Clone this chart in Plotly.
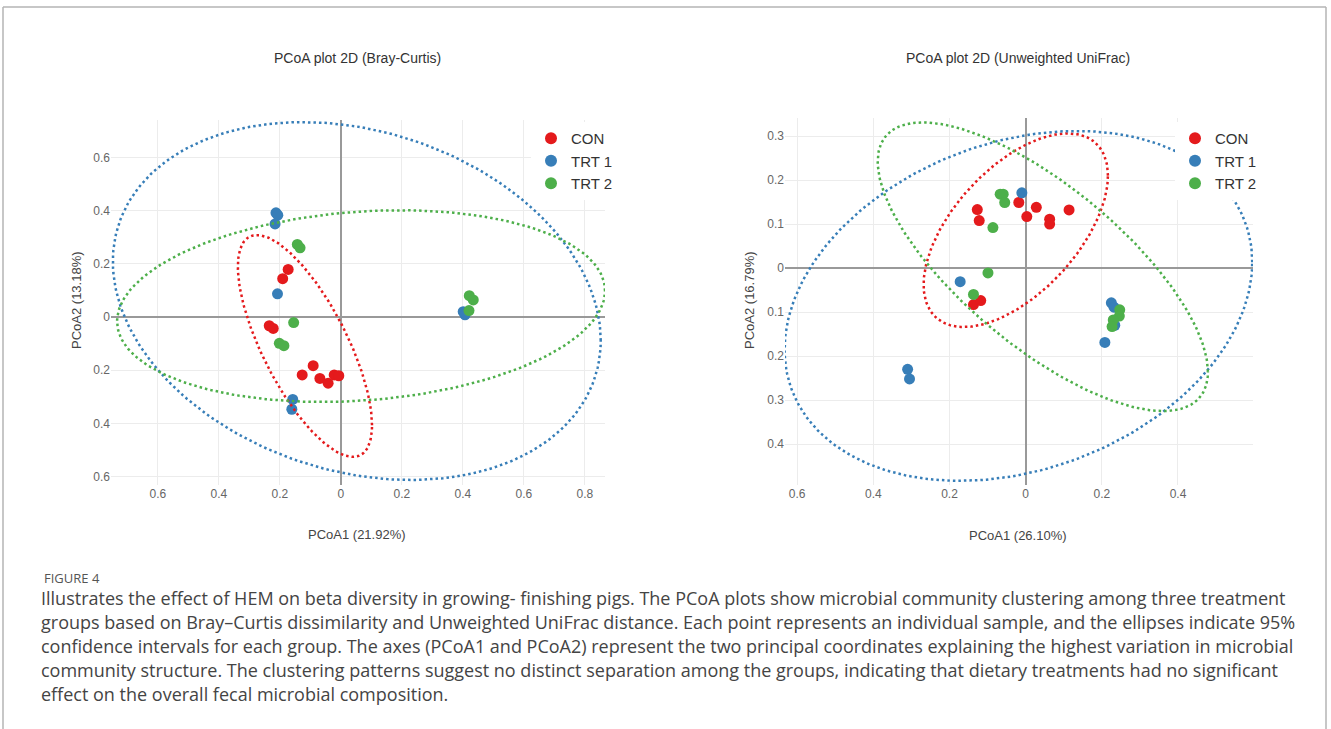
import numpy as np
import plotly.graph_objects as go

W, H = 1331, 729

# ---- Bray-Curtis ordination scores ----
bc_con_x = [-0.173, -0.191, -0.235, -0.222, -0.127, -0.091, -0.069, -0.042, -0.022, -0.007]
bc_con_y = [0.179, 0.144, -0.033, -0.043, -0.218, -0.183, -0.231, -0.249, -0.218, -0.221]
bc_trt1_x = [-0.213, -0.207, -0.216, -0.208, -0.158, -0.161, 0.401, 0.407]
bc_trt1_y = [0.392, 0.383, 0.350, 0.087, -0.310, -0.347, 0.020, 0.008]
bc_trt2_x = [-0.143, -0.134, -0.155, -0.202, -0.187, 0.421, 0.434, 0.420]
bc_trt2_y = [0.273, 0.260, -0.021, -0.099, -0.108, 0.080, 0.064, 0.024]

# ---- Unweighted UniFrac ordination scores ----
uu_con_x = [-0.137, -0.118, -0.127, -0.122, -0.018, 0.003, 0.028, 0.063, 0.063, 0.114]
uu_con_y = [-0.083, -0.074, 0.133, 0.108, 0.149, 0.117, 0.138, 0.111, 0.100, 0.132]
uu_trt1_x = [-0.172, -0.010, 0.225, 0.232, 0.234, 0.208, -0.310, -0.305]
uu_trt1_y = [-0.031, 0.171, -0.079, -0.089, -0.130, -0.169, -0.230, -0.252]
uu_trt2_x = [-0.137, -0.099, -0.086, -0.067, -0.059, -0.055, 0.247, 0.246, 0.230, 0.227]
uu_trt2_y = [-0.060, -0.011, 0.092, 0.168, 0.168, 0.149, -0.095, -0.109, -0.118, -0.133]

# 95% ellipses: centre x, centre y, var x, cov xy, var y
bc_con_ell = [-0.118, -0.109, 0.0484, -0.0656, 0.174]
bc_trt1_ell = [0.052, 0.060, 0.640, -0.119, 0.453]
bc_trt2_ell = [0.066, 0.041, 0.640, 0.046, 0.130]
uu_con_ell = [-0.026, 0.086, 0.0586, 0.030, 0.0484]
uu_trt1_ell = [-0.019, -0.086, 0.377, 0.061, 0.158]
uu_trt2_ell = [0.045, 0.003, 0.188, -0.1036, 0.1076]

groups = ["CON", "TRT 1", "TRT 2"]
colors = ["#e41a1c", "#377eb8", "#4daf4a"]

# tick positions and their printed labels
bc_x_ticks = [-0.6, -0.4, -0.2, 0, 0.2, 0.4, 0.6, 0.8]
bc_x_labels = ["0.6", "0.4", "0.2", "0", "0.2", "0.4", "0.6", "0.8"]
bc_y_ticks = [-0.6, -0.4, -0.2, 0, 0.2, 0.4, 0.6]
bc_y_labels = ["0.6", "0.4", "0.2", "0", "0.2", "0.4", "0.6"]
uu_x_ticks = [-0.6, -0.4, -0.2, 0, 0.2, 0.4]
uu_x_labels = ["0.6", "0.4", "0.2", "0", "0.2", "0.4"]
uu_y_ticks = [-0.4, -0.3, -0.2, -0.1, 0, 0.1, 0.2, 0.3]
uu_y_labels = ["0.4", "0.3", "0.2", "0.1", "0", "0.1", "0.2", "0.3"]

caption_lines = [
    "Illustrates the effect of HEM on beta diversity in growing- finishing pigs. The PCoA plots show microbial community clustering among three treatment",
    "groups based on Bray\u2013Curtis dissimilarity and Unweighted UniFrac distance. Each point represents an individual sample, and the ellipses indicate 95%",
    "confidence intervals for each group. The axes (PCoA1 and PCoA2) represent the two principal coordinates explaining the highest variation in microbial",
    "community structure. The clustering patterns suggest no distinct separation among the groups, indicating that dietary treatments had no significant",
    "effect on the overall fecal microbial composition.",
]


def ellipse(params, n=240):
    cx, cy, sxx, sxy, syy = params
    L = np.linalg.cholesky(np.array([[sxx, sxy], [sxy, syy]]))
    t = np.linspace(0, 2 * np.pi, n)
    pts = L @ np.vstack([np.cos(t), np.sin(t)])
    return cx + pts[0], cy + pts[1]


def px(x):
    return x / W


def py(y):
    return 1 - y / H


fig = go.Figure()

panels = [
    dict(xa="x", ya="y", legend="legend",
         pts=[(bc_con_x, bc_con_y), (bc_trt1_x, bc_trt1_y), (bc_trt2_x, bc_trt2_y)],
         ells=[bc_con_ell, bc_trt1_ell, bc_trt2_ell]),
    dict(xa="x2", ya="y2", legend="legend2",
         pts=[(uu_con_x, uu_con_y), (uu_trt1_x, uu_trt1_y), (uu_trt2_x, uu_trt2_y)],
         ells=[uu_con_ell, uu_trt1_ell, uu_trt2_ell]),
]

for p in panels:
    for g, c, (xs, ys) in zip(groups, colors, p["pts"]):
        fig.add_trace(go.Scatter(
            x=xs, y=ys, mode="markers", name=g,
            marker=dict(color=c, size=11, line=dict(width=0)),
            xaxis=p["xa"], yaxis=p["ya"], legend=p["legend"],
        ))
    for c, e in zip(colors, p["ells"]):
        ex, ey = ellipse(e)
        fig.add_trace(go.Scatter(
            x=ex, y=ey, mode="lines", showlegend=False, hoverinfo="skip",
            line=dict(color=c, width=2.5, dash="2.5px,3px"),
            xaxis=p["xa"], yaxis=p["ya"],
        ))

axis_common = dict(
    showgrid=True, gridcolor="#ececec", gridwidth=1,
    zeroline=True, zerolinecolor="#999999", zerolinewidth=2,
    showline=False, ticks="",
    tickfont=dict(family="Liberation Sans, Arial", size=12, color="#666666"),
    tickmode="array",
)

legend_font = dict(family="Liberation Sans, Arial", size=15, color="#333333")

fig.update_layout(
    width=W, height=H,
    margin=dict(l=0, r=0, t=0, b=0),
    paper_bgcolor="white", plot_bgcolor="white",
    xaxis=dict(axis_common, domain=[px(111), px(605)], range=[-0.754, 0.866],
               tickvals=bc_x_ticks, ticktext=bc_x_labels, anchor="y"),
    yaxis=dict(axis_common, domain=[py(485), py(120)], range=[-0.632, 0.741],
               tickvals=bc_y_ticks, ticktext=bc_y_labels, anchor="x"),
    xaxis2=dict(axis_common, domain=[px(785), px(1253)], range=[-0.632, 0.597],
                tickvals=uu_x_ticks, ticktext=uu_x_labels, anchor="y2"),
    yaxis2=dict(axis_common, domain=[py(485), py(118)], range=[-0.493, 0.341],
                tickvals=uu_y_ticks, ticktext=uu_y_labels, anchor="x2"),
    legend=dict(x=px(531), y=py(122), xanchor="left", yanchor="top",
                bgcolor="white", font=legend_font, itemsizing="constant"),
    legend2=dict(x=px(1175), y=py(122), xanchor="left", yanchor="top",
                 bgcolor="white", font=legend_font, itemsizing="constant"),
    showlegend=True,
)

annotations = []
label_font = dict(family="Liberation Sans, Arial", size=13, color="#444444")
title_font = dict(family="Liberation Sans, Arial", size=14, color="#333333")

# panel titles
annotations.append(dict(text="PCoA plot 2D (Bray-Curtis)", x=px(357), y=py(58), font=title_font))
annotations.append(dict(text="PCoA plot 2D (Unweighted UniFrac)", x=px(1018), y=py(58), font=title_font))
# axis titles
annotations.append(dict(text="PCoA1 (21.92%)", x=px(357), y=py(534), font=label_font))
annotations.append(dict(text="PCoA1 (26.10%)", x=px(1018), y=py(535), font=label_font))
annotations.append(dict(text="PCoA2 (13.18%)", x=px(76), y=py(300), textangle=-90, font=label_font))
annotations.append(dict(text="PCoA2 (16.79%)", x=px(749), y=py(300), textangle=-90, font=label_font))

# caption
annotations.append(dict(text="FIGURE 4", x=px(42), y=py(578), xanchor="left",
                        font=dict(family="Open Sans, Noto Sans", size=13, color="#555555")))
for i, line in enumerate(caption_lines):
    annotations.append(dict(text=line, x=px(39), y=py(598 + 24 * i), xanchor="left",
                            font=dict(family="Open Sans, Noto Sans", size=18, color="#444444")))

for a in annotations:
    a.setdefault("xref", "paper")
    a.setdefault("yref", "paper")
    a.setdefault("showarrow", False)
    a.setdefault("xanchor", "center")
    a.setdefault("yanchor", "middle")
fig.update_layout(annotations=annotations)

# figure frame (top, left, right edges)
frame = dict(color="#b5b5b5", width=1.5)
fig.update_layout(shapes=[
    dict(type="line", xref="paper", yref="paper", x0=px(3), x1=px(1326), y0=py(7), y1=py(7), line=frame),
    dict(type="line", xref="paper", yref="paper", x0=px(3), x1=px(3), y0=py(7), y1=0, line=frame),
    dict(type="line", xref="paper", yref="paper", x0=px(1326), x1=px(1326), y0=py(7), y1=0, line=frame),
])

fig.write_html("out.html")
